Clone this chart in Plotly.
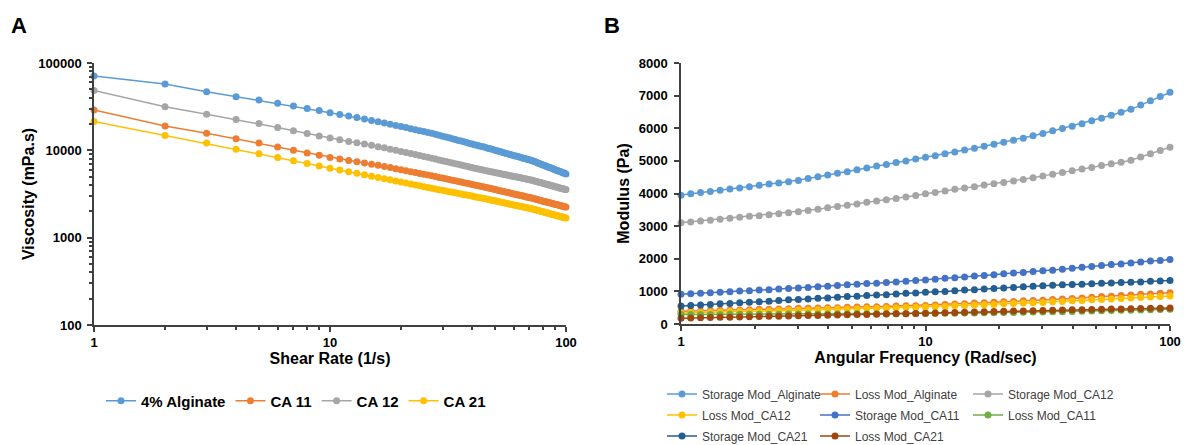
import plotly.graph_objects as go

# ---------------- Panel A data ----------------
shear_rate = list(range(1, 101))
visc_alginate = [71000, 57500, 47000, 41200, 37800, 34600, 32100, 30100, 28500, 27000,
                 25800, 24700, 23700, 22800, 22000, 21300, 20600, 19900, 19300, 18700,
                 18200, 17700, 17200, 16800, 16400, 16000, 15700, 15300, 14900, 14500,
                 14200, 13900, 13600, 13300, 13000, 12800, 12500, 12300, 12000, 11800,
                 11600, 11400, 11200, 11100, 10900, 10700, 10500, 10400, 10200, 10000,
                 9890, 9750, 9610, 9470, 9340, 9210, 9090, 8970, 8860, 8740,
                 8640, 8530, 8430, 8330, 8230, 8130, 8040, 7950, 7860, 7780,
                 7690, 7600, 7490, 7380, 7280, 7180, 7080, 6980, 6890, 6800,
                 6710, 6620, 6540, 6450, 6380, 6300, 6220, 6150, 6070, 6000,
                 5930, 5860, 5800, 5730, 5670, 5610, 5550, 5490, 5430, 5370]
visc_ca11 = [29000, 19000, 15700, 13600, 12100, 10900, 10000, 9350, 8770, 8280,
             7940, 7640, 7380, 7140, 6930, 6740, 6540, 6350, 6160, 6000,
             5840, 5700, 5570, 5440, 5320, 5210, 5110, 5000, 4900, 4810,
             4720, 4630, 4550, 4470, 4400, 4330, 4260, 4190, 4130, 4070,
             4010, 3960, 3910, 3860, 3800, 3750, 3700, 3650, 3600, 3560,
             3510, 3470, 3430, 3390, 3350, 3310, 3280, 3240, 3210, 3170,
             3140, 3110, 3080, 3050, 3020, 2990, 2960, 2930, 2910, 2880,
             2860, 2830, 2800, 2770, 2750, 2720, 2700, 2670, 2650, 2620,
             2600, 2580, 2560, 2530, 2510, 2490, 2470, 2450, 2430, 2410,
             2390, 2380, 2360, 2340, 2320, 2300, 2290, 2270, 2250, 2240]
visc_ca12 = [48300, 31600, 25900, 22600, 20300, 18300, 16800, 15600, 14600, 13800,
             13200, 12600, 12200, 11800, 11400, 11000, 10700, 10300, 10000, 9710,
             9440, 9180, 8950, 8720, 8520, 8320, 8130, 7950, 7770, 7610,
             7450, 7310, 7170, 7030, 6910, 6780, 6670, 6560, 6450, 6350,
             6250, 6160, 6070, 5980, 5910, 5840, 5770, 5700, 5630, 5570,
             5510, 5450, 5390, 5340, 5280, 5230, 5180, 5130, 5080, 5030,
             4980, 4940, 4890, 4850, 4810, 4770, 4730, 4690, 4650, 4610,
             4580, 4530, 4490, 4440, 4400, 4350, 4310, 4270, 4230, 4190,
             4150, 4110, 4080, 4040, 4000, 3970, 3940, 3900, 3870, 3840,
             3810, 3770, 3740, 3710, 3690, 3660, 3630, 3600, 3570, 3550]
visc_ca21 = [21400, 14800, 12100, 10300, 9120, 8260, 7590, 7060, 6620, 6250,
             5950, 5680, 5450, 5240, 5050, 4890, 4730, 4590, 4450, 4330,
             4220, 4110, 4020, 3930, 3840, 3760, 3680, 3610, 3540, 3480,
             3420, 3360, 3310, 3260, 3210, 3160, 3110, 3070, 3030, 2990,
             2950, 2910, 2870, 2840, 2800, 2770, 2730, 2700, 2670, 2640,
             2610, 2580, 2550, 2520, 2500, 2470, 2450, 2420, 2400, 2370,
             2350, 2330, 2310, 2290, 2270, 2250, 2230, 2210, 2190, 2170,
             2160, 2130, 2110, 2090, 2070, 2050, 2030, 2010, 1990, 1980,
             1960, 1940, 1920, 1910, 1890, 1870, 1860, 1840, 1830, 1810,
             1800, 1780, 1770, 1760, 1740, 1730, 1720, 1700, 1690, 1680]

# ---------------- Panel B data ----------------
ang_freq = [1.0, 1.096, 1.202, 1.318, 1.445, 1.585, 1.738, 1.905, 2.089, 2.291,
            2.512, 2.754, 3.020, 3.311, 3.631, 3.981, 4.365, 4.786, 5.248, 5.754,
            6.310, 6.918, 7.586, 8.318, 9.120, 10.0, 10.96, 12.02, 13.18, 14.45,
            15.85, 17.38, 19.05, 20.89, 22.91, 25.12, 27.54, 30.20, 33.11, 36.31,
            39.81, 43.65, 47.86, 52.48, 57.54, 63.10, 69.18, 75.86, 83.18, 91.20,
            100.0]
storage_alginate = [3950, 3990, 4030, 4060, 4100, 4140, 4170, 4210, 4250, 4290,
                    4320, 4360, 4400, 4460, 4510, 4570, 4620, 4670, 4730, 4780,
                    4840, 4890, 4950, 5000, 5060, 5110, 5160, 5220, 5270, 5330,
                    5390, 5450, 5510, 5570, 5630, 5690, 5770, 5840, 5920, 5990,
                    6060, 6140, 6230, 6310, 6400, 6490, 6580, 6710, 6840, 6970,
                    7100]
loss_alginate = [390, 400, 400, 410, 420, 430, 430, 440, 450, 450,
                 460, 470, 480, 480, 490, 500, 500, 510, 520, 530,
                 530, 540, 550, 560, 560, 570, 580, 600, 610, 620,
                 640, 650, 670, 680, 690, 710, 720, 730, 750, 770,
                 780, 800, 820, 840, 850, 870, 890, 910, 920, 940,
                 960]
storage_ca12 = [3100, 3130, 3160, 3180, 3210, 3240, 3270, 3300, 3320, 3350,
                3380, 3410, 3440, 3480, 3520, 3560, 3600, 3640, 3680, 3730,
                3770, 3810, 3850, 3890, 3940, 3990, 4030, 4080, 4130, 4170,
                4210, 4260, 4300, 4340, 4380, 4430, 4480, 4540, 4590, 4640,
                4700, 4750, 4800, 4860, 4910, 4960, 5020, 5120, 5220, 5320,
                5420]
loss_ca12 = [340, 350, 350, 360, 370, 380, 380, 390, 400, 400,
             410, 420, 430, 430, 440, 450, 460, 460, 470, 480,
             480, 490, 500, 510, 510, 520, 530, 540, 560, 570,
             580, 590, 600, 620, 630, 640, 650, 660, 680, 690,
             710, 720, 740, 750, 770, 780, 800, 810, 830, 840,
             860]
storage_ca11 = [910, 930, 940, 960, 970, 990, 1010, 1020, 1040, 1050,
                1070, 1090, 1100, 1120, 1140, 1160, 1180, 1200, 1220, 1240,
                1250, 1270, 1290, 1310, 1330, 1350, 1370, 1400, 1420, 1440,
                1470, 1490, 1510, 1540, 1560, 1580, 1610, 1630, 1650, 1680,
                1710, 1740, 1760, 1790, 1820, 1840, 1870, 1900, 1930, 1950,
                1980]
loss_ca11 = [290, 291, 292, 294, 295, 296, 297, 298, 300, 301,
             302, 303, 304, 306, 307, 308, 309, 310, 312, 313,
             314, 315, 316, 318, 319, 320, 324, 328, 332, 336,
             340, 344, 348, 352, 356, 360, 364, 368, 373, 379,
             386, 392, 399, 405, 411, 418, 424, 430, 437, 443,
             450]
storage_ca21 = [550, 570, 580, 600, 620, 630, 650, 670, 680, 700,
                720, 740, 750, 770, 790, 800, 820, 840, 850, 870,
                890, 900, 920, 940, 950, 970, 990, 1000, 1020, 1040,
                1050, 1070, 1090, 1100, 1120, 1140, 1160, 1170, 1190, 1200,
                1210, 1220, 1230, 1250, 1260, 1270, 1280, 1290, 1310, 1320,
                1330]
loss_ca21 = [180, 186, 192, 198, 204, 210, 216, 222, 228, 234,
             240, 246, 252, 258, 264, 270, 276, 282, 288, 294,
             300, 306, 312, 318, 324, 330, 337, 344, 352, 359,
             366, 373, 380, 388, 395, 402, 409, 416, 423, 428,
             434, 440, 445, 451, 456, 462, 468, 473, 479, 484,
             490]

# tick values
a_x_ticks = [1, 10, 100]
a_y_ticks = [100, 1000, 10000, 100000]
a_y_ticktext = ["100", "1000", "10000", "100000"]
b_y_ticks = [0, 1000, 2000, 3000, 4000, 5000, 6000, 7000, 8000]
minor_x = [2, 3, 4, 5, 6, 7, 8, 9, 20, 30, 40, 50, 60, 70, 80, 90]
minor_y = [200, 300, 400, 500, 600, 700, 800, 900, 2000, 3000, 4000, 5000, 6000,
           7000, 8000, 9000, 20000, 30000, 40000, 50000, 60000, 70000, 80000, 90000]

FONT = "Arial, 'Liberation Sans', sans-serif"
AXC = "#404040"

fig = go.Figure()

series_a = [("4% Alginate", visc_alginate, "#5B9BD5"),
            ("CA 11", visc_ca11, "#ED7D31"),
            ("CA 12", visc_ca12, "#A5A5A5"),
            ("CA 21", visc_ca21, "#FFC000")]
for name, vals, col in series_a:
    fig.add_trace(go.Scatter(x=shear_rate, y=vals, name=name, mode="lines+markers",
                             line=dict(color=col, width=1.5),
                             marker=dict(color=col, size=7),
                             cliponaxis=False, xaxis="x", yaxis="y", legend="legend"))

series_b = [("Storage Mod_Alginate", storage_alginate, "#5B9BD5", "legend2"),
            ("Loss Mod_Alginate", loss_alginate, "#ED7D31", "legend2"),
            ("Storage Mod_CA12", storage_ca12, "#A5A5A5", "legend2"),
            ("Loss Mod_CA12", loss_ca12, "#FFC000", "legend3"),
            ("Storage Mod_CA11", storage_ca11, "#4472C4", "legend3"),
            ("Loss Mod_CA11", loss_ca11, "#70AD47", "legend3"),
            ("Storage Mod_CA21", storage_ca21, "#255E91", "legend4"),
            ("Loss Mod_CA21", loss_ca21, "#9E480E", "legend4")]
for name, vals, col, lg in series_b:
    fig.add_trace(go.Scatter(x=ang_freq, y=vals, name=name, mode="lines+markers",
                             line=dict(color=col, width=1.5),
                             marker=dict(color=col, size=7),
                             cliponaxis=False, xaxis="x2", yaxis="y2", legend=lg))

W, H = 1184, 445
def px(x):
    return x / W
def py(y):
    return 1 - y / H

tickfont = dict(family=FONT, size=13, color="#000000", weight="bold")
titlefont = dict(family=FONT, size=16, color="#000000", weight="bold")

common_axis = dict(showline=True, linecolor=AXC, linewidth=1.5, ticks="outside",
                   tickcolor=AXC, tickwidth=1.5, ticklen=5, showgrid=False,
                   zeroline=False, tickfont=tickfont, automargin=False)

legend_b_font = dict(family=FONT, size=12, color="#404040")

fig.update_layout(
    width=W, height=H,
    margin=dict(l=0, r=0, t=0, b=0, autoexpand=False),
    paper_bgcolor="white", plot_bgcolor="white",
    font=dict(family=FONT),
    xaxis=dict(type="log", range=[0, 2], domain=[px(94), px(566)], anchor="y",
               tickvals=a_x_ticks, ticktext=["1", "10", "100"], ticklabelstandoff=0,
               minor=dict(ticks="outside", ticklen=3, tickcolor=AXC, tickvals=minor_x),
               title=dict(text="Shear Rate (1/s)", font=titlefont, standoff=1),
               **common_axis),
    yaxis=dict(type="log", range=[2, 5], domain=[py(325), py(63)], anchor="x",
               tickvals=a_y_ticks, ticktext=a_y_ticktext, ticklabelstandoff=3,
               minor=dict(ticks="outside", ticklen=3, tickcolor=AXC, tickvals=minor_y),
               title=dict(text="Viscosity (mPa.s)", font=titlefont, standoff=0),
               **common_axis),
    xaxis2=dict(type="log", range=[0, 2], domain=[px(681), px(1170)], anchor="y2",
                tickvals=a_x_ticks, ticktext=["1", "10", "100"], ticklabelstandoff=0,
                minor=dict(ticks="outside", ticklen=3, tickcolor=AXC, tickvals=minor_x),
                title=dict(text="Angular Frequency (Rad/sec)", font=titlefont, standoff=3),
                **common_axis),
    yaxis2=dict(range=[0, 8000], domain=[py(324), py(63)], anchor="x2",
                tickvals=b_y_ticks, ticklabelstandoff=4,
                title=dict(text="Modulus (Pa)", font=titlefont, standoff=5),
                **common_axis),
    legend=dict(orientation="h", x=px(101), y=py(401), xanchor="left", yanchor="middle",
                font=dict(family=FONT, size=15, color="#000000", weight="bold"),
                bgcolor="rgba(0,0,0,0)", itemwidth=30),
    legend2=dict(orientation="h", x=px(662), y=py(394), xanchor="left", yanchor="middle",
                 font=legend_b_font, entrywidth=108,
                 bgcolor="rgba(0,0,0,0)", itemwidth=30),
    legend3=dict(orientation="h", x=px(662), y=py(415), xanchor="left", yanchor="middle",
                 font=legend_b_font, entrywidth=108,
                 bgcolor="rgba(0,0,0,0)", itemwidth=30),
    legend4=dict(orientation="h", x=px(662), y=py(436), xanchor="left", yanchor="middle",
                 font=legend_b_font, entrywidth=108,
                 bgcolor="rgba(0,0,0,0)", itemwidth=30),
    annotations=[
        dict(text="A", x=px(9), y=py(25), xref="paper", yref="paper", xanchor="left",
             yanchor="middle", showarrow=False,
             font=dict(family=FONT, size=22, color="#000000", weight="bold")),
        dict(text="B", x=px(602), y=py(25), xref="paper", yref="paper", xanchor="left",
             yanchor="middle", showarrow=False,
             font=dict(family=FONT, size=22, color="#000000", weight="bold")),
    ],
)

fig.write_html(
    "out.html",
    config={"displayModeBar": False},
    post_script="document.body.style.margin='0px';document.body.style.overflow='hidden';",
)
